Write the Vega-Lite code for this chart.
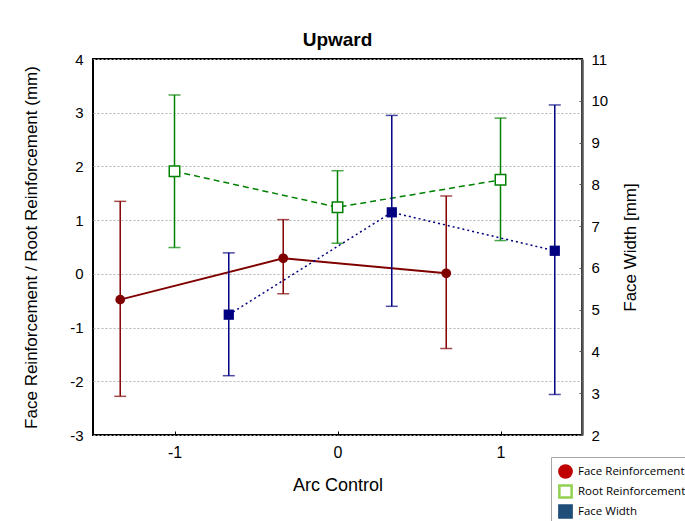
{
  "$schema": "https://vega.github.io/schema/vega-lite/v6.json",
  "width": 489,
  "height": 376,
  "autosize": {"type": "none"},
  "padding": {"left": 93, "top": 59, "right": 103, "bottom": 86},
  "background": "white",
  "title": {"text": "Upward", "font": "Liberation Sans", "fontSize": 19, "fontWeight": "bold", "color": "#000", "offset": 2},
  "config": {
    "view": {"stroke": "#000", "strokeWidth": 2},
    "font": "Liberation Sans",
    "axisLeft": {"tickCount": 8, "domain": false, "ticks": false,
      "grid": true, "gridDash": [2, 2], "gridColor": "#b4b4b4", "gridWidth": 1,
      "labelFontSize": 15, "labelColor": "#000", "labelPadding": 10, "labelFont": "Liberation Sans", "labelExpr": "'' + datum.value",
      "titleFontSize": 17, "titleFontWeight": "normal", "titleColor": "#000", "titleFont": "Liberation Sans",
      "titleX": -62, "titleY": 188, "titleBaseline": "middle", "titleAlign": "center", "titleAngle": -90},
    "axisRight": {"tickCount": 10, "domain": true, "domainColor": "#555555", "domainWidth": 2.5,
      "ticks": true, "tickSize": -3, "tickColor": "#555555", "grid": false,
      "labelFontSize": 15, "labelColor": "#000", "labelPadding": 12, "labelFont": "Liberation Sans",
      "titleFontSize": 17, "titleFontWeight": "normal", "titleColor": "#000", "titleFont": "Liberation Sans",
      "titleX": 48, "titleY": 188, "titleBaseline": "middle", "titleAlign": "center", "titleAngle": -90}
  },
  "data": {"values": [
    {"series": "Face Reinforcement", "x": -1.333, "mean": -0.48, "lo": -2.28, "hi": 1.35},
    {"series": "Face Reinforcement", "x": -0.333, "mean": 0.29, "lo": -0.37, "hi": 1.01},
    {"series": "Face Reinforcement", "x": 0.667, "mean": 0.01, "lo": -1.39, "hi": 1.45},
    {"series": "Root Reinforcement", "x": -1, "mean": 1.91, "lo": 0.49, "hi": 3.33},
    {"series": "Root Reinforcement", "x": 0, "mean": 1.24, "lo": 0.57, "hi": 1.92},
    {"series": "Root Reinforcement", "x": 1, "mean": 1.75, "lo": 0.62, "hi": 2.9},
    {"series": "Face Width", "x": -0.667, "mean": 4.88, "lo": 3.42, "hi": 6.36},
    {"series": "Face Width", "x": 0.333, "mean": 7.33, "lo": 5.08, "hi": 9.65},
    {"series": "Face Width", "x": 1.333, "mean": 6.41, "lo": 2.97, "hi": 9.9}
  ]},
  "encoding": {
    "x": {"field": "x", "type": "quantitative", "title": "Arc Control",
      "scale": {"domain": [-1.5, 1.5], "nice": false, "zero": false},
      "axis": {"values": [-1, 0, 1], "grid": false, "domain": false, "ticks": true, "tickSize": -4, "tickColor": "#000", "tickWidth": 1,
        "labelFontSize": 16, "labelColor": "#000", "labelPadding": 13, "labelFont": "Liberation Sans", "labelExpr": "'' + datum.value",
        "titleFontSize": 18, "titleFontWeight": "normal", "titleColor": "#000", "titleFont": "Liberation Sans", "titleBaseline": "middle", "titleY": 50}}
  },
  "layer": [
    {
      "layer": [
        {
          "transform": [{"filter": "datum.series === 'Face Reinforcement'"}],
          "layer": [
            {"mark": {"type": "rule", "color": "#800000", "strokeWidth": 1.5},
             "encoding": {"y": {"field": "lo", "type": "quantitative", "title": "Face Reinforcement / Root Reinforcement (mm)",
                "scale": {"domain": [-3, 4], "nice": false, "zero": false}},
               "y2": {"field": "hi"}}},
            {"mark": {"type": "tick", "orient": "horizontal", "color": "#800000", "size": 12, "thickness": 1.5},
             "encoding": {"y": {"field": "lo", "type": "quantitative", "title": "Face Reinforcement / Root Reinforcement (mm)"}}},
            {"mark": {"type": "tick", "orient": "horizontal", "color": "#800000", "size": 12, "thickness": 1.5},
             "encoding": {"y": {"field": "hi", "type": "quantitative", "title": "Face Reinforcement / Root Reinforcement (mm)"}}},
            {"mark": {"type": "line", "color": "#800000", "strokeWidth": 2},
             "encoding": {"y": {"field": "mean", "type": "quantitative", "title": "Face Reinforcement / Root Reinforcement (mm)"}}},
            {"mark": {"type": "point", "shape": "circle", "filled": true, "color": "#800000", "opacity": 1, "size": 95},
             "encoding": {"y": {"field": "mean", "type": "quantitative", "title": "Face Reinforcement / Root Reinforcement (mm)"}}}
          ]
        },
        {
          "transform": [{"filter": "datum.series === 'Root Reinforcement'"}],
          "layer": [
            {"mark": {"type": "rule", "color": "#008000", "strokeWidth": 1.5},
             "encoding": {"y": {"field": "lo", "type": "quantitative", "title": "Face Reinforcement / Root Reinforcement (mm)"}, "y2": {"field": "hi"}}},
            {"mark": {"type": "tick", "orient": "horizontal", "color": "#008000", "size": 12, "thickness": 1.5},
             "encoding": {"y": {"field": "lo", "type": "quantitative", "title": "Face Reinforcement / Root Reinforcement (mm)"}}},
            {"mark": {"type": "tick", "orient": "horizontal", "color": "#008000", "size": 12, "thickness": 1.5},
             "encoding": {"y": {"field": "hi", "type": "quantitative", "title": "Face Reinforcement / Root Reinforcement (mm)"}}},
            {"mark": {"type": "line", "color": "#008000", "strokeWidth": 1.5, "strokeDash": [6, 4]},
             "encoding": {"y": {"field": "mean", "type": "quantitative", "title": "Face Reinforcement / Root Reinforcement (mm)"}}},
            {"mark": {"type": "point", "shape": "square", "filled": false, "fill": "#ffffff", "stroke": "#008000", "strokeWidth": 1.5, "opacity": 1, "size": 110},
             "encoding": {"y": {"field": "mean", "type": "quantitative", "title": "Face Reinforcement / Root Reinforcement (mm)"}}}
          ]
        }
      ]
    },
    {
      "transform": [{"filter": "datum.series === 'Face Width'"}],
      "layer": [
        {"mark": {"type": "rule", "color": "#000080", "strokeWidth": 1.5},
         "encoding": {"y": {"field": "lo", "type": "quantitative", "title": "Face Width [mm]",
            "scale": {"domain": [2, 11], "nice": false, "zero": false}},
           "y2": {"field": "hi"}}},
        {"mark": {"type": "tick", "orient": "horizontal", "color": "#000080", "size": 12, "thickness": 1.5},
         "encoding": {"y": {"field": "lo", "type": "quantitative", "title": "Face Width [mm]"}}},
        {"mark": {"type": "tick", "orient": "horizontal", "color": "#000080", "size": 12, "thickness": 1.5},
         "encoding": {"y": {"field": "hi", "type": "quantitative", "title": "Face Width [mm]"}}},
        {"mark": {"type": "line", "color": "#000080", "strokeWidth": 1.5, "strokeDash": [2, 3]},
         "encoding": {"y": {"field": "mean", "type": "quantitative", "title": "Face Width [mm]"}}},
        {"mark": {"type": "point", "shape": "square", "filled": true, "color": "#000080", "opacity": 1, "size": 105},
         "encoding": {"y": {"field": "mean", "type": "quantitative", "title": "Face Width [mm]"}}}
      ]
    },
    {
      "mark": {"type": "point", "opacity": 0},
      "encoding": {
        "y": {"value": 0},
        "fill": {"field": "series", "type": "nominal",
          "scale": {"domain": ["Face Reinforcement", "Root Reinforcement", "Face Width"], "range": ["#c00000", "#ffffff", "#1f4e79"]},
          "legend": {"orient": "none", "legendX": 458, "legendY": 398, "title": null,
            "labelFont": "Open Sans", "labelFontSize": 11.5, "labelColor": "#000", "labelOffset": 5,
            "symbolSize": 150, "symbolStrokeWidth": 2.5, "strokeColor": "#a6a6a6", "fillColor": "#ffffff", "padding": 7, "rowPadding": -3,
            "symbolOpacity": 1}},
        "stroke": {"field": "series", "type": "nominal",
          "scale": {"domain": ["Face Reinforcement", "Root Reinforcement", "Face Width"], "range": ["#c00000", "#92d050", "#1f4e79"]},
          "legend": {"orient": "none", "legendX": 458, "legendY": 398, "title": null,
            "labelFont": "Open Sans", "labelFontSize": 11.5, "labelColor": "#000", "labelOffset": 5,
            "symbolSize": 150, "symbolStrokeWidth": 2.5, "strokeColor": "#a6a6a6", "fillColor": "#ffffff", "padding": 7, "rowPadding": -3,
            "symbolOpacity": 1}},
        "shape": {"field": "series", "type": "nominal",
          "scale": {"domain": ["Face Reinforcement", "Root Reinforcement", "Face Width"], "range": ["circle", "square", "square"]},
          "legend": {"orient": "none", "legendX": 458, "legendY": 398, "title": null,
            "labelFont": "Open Sans", "labelFontSize": 11.5, "labelColor": "#000", "labelOffset": 5,
            "symbolSize": 150, "symbolStrokeWidth": 2.5, "strokeColor": "#a6a6a6", "fillColor": "#ffffff", "padding": 7, "rowPadding": -3,
            "symbolOpacity": 1}}
      }
    }
  ],
  "resolve": {"scale": {"y": "independent"}, "axis": {"y": "independent"}}
}
